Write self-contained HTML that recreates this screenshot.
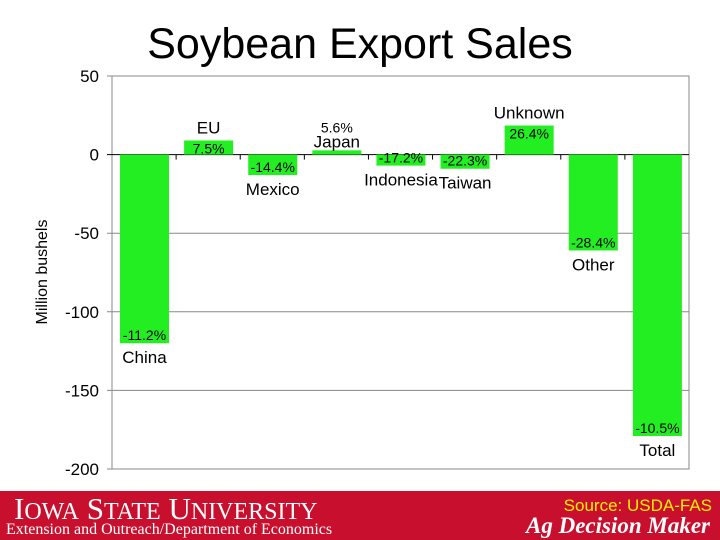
<!DOCTYPE html>
<html><head><meta charset="utf-8"><style>
body{margin:0;width:720px;height:540px;overflow:hidden;background:#fff;font-family:"Liberation Sans",sans-serif;position:relative}
#title{position:absolute;left:0;width:720px;top:20px;text-align:center;font-size:43px;color:#000}
#footer{position:absolute;left:0;top:491px;width:720px;height:49px;background:#c8102e}
</style></head><body>
<div id="title">Soybean Export Sales</div>
<svg id="chart" width="720" height="490" style="position:absolute;left:0;top:0"></svg>
<div id="footer">
<div style="position:absolute;left:14px;top:0px;font-family:'Liberation Serif',serif;color:#fff;font-size:31px;letter-spacing:0">I<span style="font-size:24px">OWA</span> S<span style="font-size:24px">TATE</span> U<span style="font-size:24px">NIVERSITY</span></div>
<div style="position:absolute;left:6px;top:30px;font-family:'Liberation Serif',serif;color:#fff;font-size:16px">Extension and Outreach/Department of Economics</div>
<div style="position:absolute;right:8px;top:5px;color:#ffee00;font-size:17px">Source: USDA-FAS</div>
<div style="position:absolute;right:10px;top:22px;font-family:'Liberation Serif',serif;font-style:italic;font-weight:bold;color:#fff;font-size:23px">Ag Decision Maker</div>
</div>
<script>
const categories=["China","EU","Mexico","Japan","Indonesia","Taiwan","Unknown","Other","Total"];
const values=[-120,9,-13,2.7,-7,-9,18.5,-61,-179];
const pctLabels=["-11.2%","7.5%","-14.4%","5.6%","-17.2%","-22.3%","26.4%","-28.4%","-10.5%"];
const yTicks=[50,0,-50,-100,-150,-200];
const NS="http://www.w3.org/2000/svg";
const svg=document.getElementById('chart');
const L=112,R=689,T=76,B=469,yMax=50,yMin=-200;
const y=v=>T+(yMax-v)/(yMax-yMin)*(B-T);
const cw=(R-L)/categories.length;
const x=i=>L+i*cw;
function el(t,a,txt){const e=document.createElementNS(NS,t);for(const k in a)e.setAttribute(k,a[k]);if(txt!==undefined)e.textContent=txt;svg.appendChild(e);return e;}
const frame=el('rect',{x:L,y:T,width:R-L,height:B-T,fill:'none',stroke:'#888','stroke-width':1});


yTicks.forEach(t=>{
 const g=el('line',{x1:L-5,x2:R,y1:y(t),y2:y(t),stroke:t===0?'#000':'#888','stroke-width':1});
 
 
 const tl=el('text',{x:L-13,y:y(t)+6,'text-anchor':'end','font-size':17,fill:'#000'},String(t));
 
 
});
const yt=el('text',{x:47,y:272,'text-anchor':'middle','font-size':16,transform:'rotate(-90 47 272)'},'Million bushels');


for(let i=1;i<categories.length;i++){
 const tk=el('line',{x1:x(i),x2:x(i),y1:y(0),y2:y(0)+5,stroke:'#000'});
 
 
}
categories.forEach((c,i)=>{
 const v=values[i],bx=x(i)+8,bw=49;
 const top=Math.min(y(v),y(0)),h=Math.abs(y(v)-y(0));
 const r=el('rect',{x:bx,y:top,width:bw,height:h,fill:'#22ee22'});
 
 
 const cx=bx+bw/2;
 let py,ny;
 if(v<0){py=y(v)-3;ny=y(v)+20;}else{py=y(v)+13;ny=y(v)-7;}
 if(v>=0&&h<12){py=y(v)-18;ny=y(v)-3;}
 const p=el('text',{x:cx,y:py,'text-anchor':'middle','font-size':14},pctLabels[i]);
 
 
 const n=el('text',{x:cx,y:ny,'text-anchor':'middle','font-size':17},c);
 
 
});
</script>
</body></html>
